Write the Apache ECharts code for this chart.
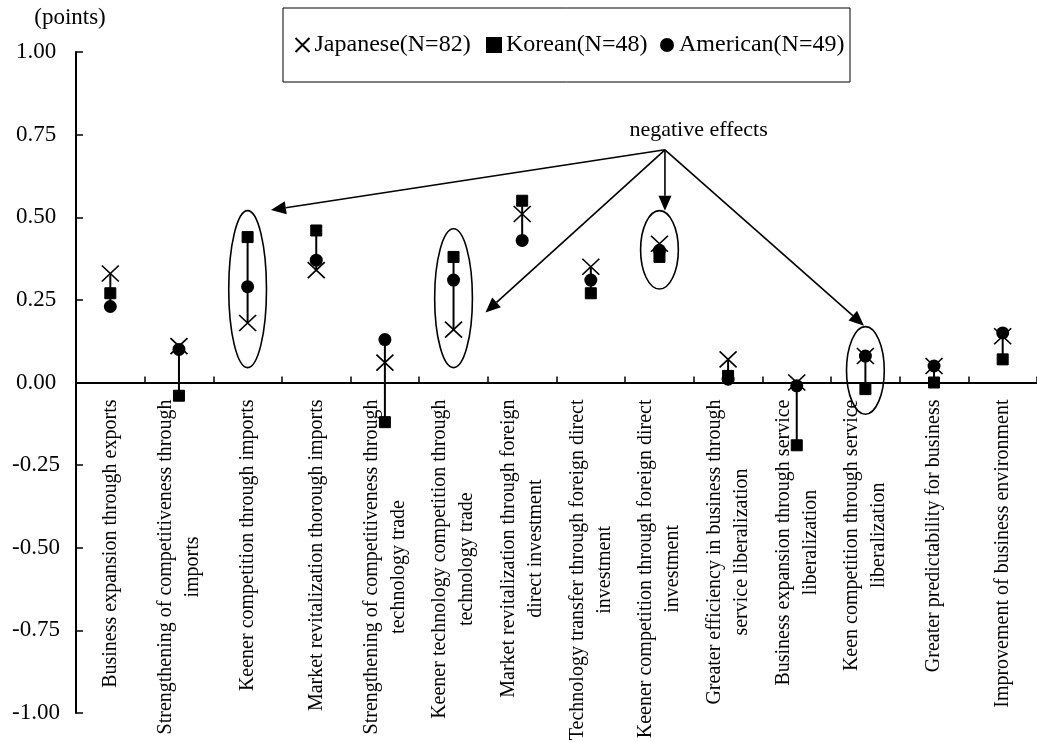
<!DOCTYPE html>
<html>
<head>
<meta charset="utf-8">
<script src="https://cdn.jsdelivr.net/npm/echarts@6/dist/echarts.min.js"></script>
<style>
  html, body { margin: 0; padding: 0; background: #fff; }
  #chart { width: 1037px; height: 742px; }
</style>
</head>
<body>
<div id="chart"></div>
<script>
// Survey items (x axis), line breaks as printed under the axis
const categories = [
  'Business expansion through exports',
  'Strengthening of competitiveness through\nimports',
  'Keener competition through imports',
  'Market revitalization thorough imports',
  'Strengthening of competitiveness through\ntechnology trade',
  'Keener technology competition through\ntechnology trade',
  'Market revitalization through foreign\ndirect investment',
  'Technology transfer through foreign direct\ninvestment',
  'Keener competition through foreign direct\ninvestment',
  'Greater efficiency in business through\nservice liberalization',
  'Business expansion through service\nliberalization',
  'Keen competition through service\nliberalization',
  'Greater predictability for business',
  'Improvement of business environment'
];

const seriesNames = ['Japanese(N=82)', 'Korean(N=48)', 'American(N=49)'];

// Average scores (points) per respondent group
const japanese = [0.33, 0.11, 0.18, 0.34, 0.06, 0.16, 0.51, 0.35, 0.42, 0.07, 0.00, 0.08, 0.05, 0.14];
const korean   = [0.27, -0.04, 0.44, 0.46, -0.12, 0.38, 0.55, 0.27, 0.38, 0.02, -0.19, -0.02, 0.00, 0.07];
const american = [0.23, 0.10, 0.29, 0.37, 0.13, 0.31, 0.43, 0.31, 0.40, 0.01, -0.01, 0.08, 0.05, 0.15];

// Value axis ticks
const yMin = -1, yMax = 1, yStep = 0.25;

const annotationText = 'negative effects';

const FONT = '"Liberation Serif", "Times New Roman", serif';
const CROSS = 'path://M0,0L14,14M14,0L0,14';

// high-low line per item, spanning the three groups
const hiLo = categories.map((c, i) => {
  const v = [japanese[i], korean[i], american[i]];
  return [i, Math.min(...v), Math.max(...v)];
});

const GRID_TOP = 52, GRID_BOTTOM = 29, HEIGHT = 742;
// category axis sits at value 0: lift it from the grid bottom by the share of the range below zero
const zeroLift = (HEIGHT - GRID_TOP - GRID_BOTTOM) * (0 - yMin) / (yMax - yMin);

const chart = echarts.init(document.getElementById('chart'), null, { renderer: 'canvas' });

const legendRich = w => ({ width: w, fontFamily: FONT, fontSize: 24, lineHeight: 24, color: '#000' });

const option = {
  backgroundColor: '#fff',
  animation: false,
  textStyle: { fontFamily: FONT, color: '#000' },
  grid: { left: 76, right: 0, top: GRID_TOP, bottom: GRID_BOTTOM, containLabel: false, outerBoundsMode: 'none' },
  legend: {
    left: 283, top: 8,
    padding: [25, 5.5, 25, 11.5],
    itemGap: 10,
    itemWidth: 14, itemHeight: 14,
    borderColor: '#000', borderWidth: 1,
    data: [
      { name: seriesNames[0], icon: CROSS },
      { name: seriesNames[1], icon: 'rect' },
      { name: seriesNames[2], icon: 'circle' }
    ],
    formatter: name => {
      const key = ['j', 'k', 'a'][seriesNames.indexOf(name)];
      return '{' + key + '|' + name + '}';
    },
    textStyle: {
      fontFamily: FONT, fontSize: 24, color: '#000',
      rich: { j: legendRich(161.5), k: legendRich(144), a: legendRich(165.5) }
    }
  },
  xAxis: {
    type: 'category',
    data: categories,
    boundaryGap: true,
    position: 'bottom',
    offset: -zeroLift,
    axisLine: { onZero: false, lineStyle: { color: '#000', width: 2 } },
    axisTick: { show: true, inside: true, length: 6, alignWithLabel: false, interval: 0, lineStyle: { color: '#000', width: 1.5 } },
    splitLine: { show: false },
    axisLabel: {
      interval: 0,
      rotate: 90,
      margin: 17,
      color: '#000',
      fontFamily: FONT,
      fontSize: 20,
      lineHeight: 27,
      formatter: v => v.split('\n').map(s => '{c|' + s + '}').join('\n'),
      rich: { c: { align: 'center', fontFamily: FONT, fontSize: 20, lineHeight: 27, color: '#000' } }
    }
  },
  yAxis: {
    type: 'value',
    min: yMin, max: yMax, interval: yStep,
    name: '(points)',
    nameLocation: 'end',
    nameGap: 34,
    nameTextStyle: { fontFamily: FONT, fontSize: 23, color: '#000', align: 'center', verticalAlign: 'middle', padding: [0, 12, 0, 0] },
    axisLine: { show: true, lineStyle: { color: '#000', width: 2 } },
    axisTick: { show: true, inside: true, length: 7, lineStyle: { color: '#000', width: 1.5 } },
    splitLine: { show: false },
    axisLabel: {
      color: '#000', fontFamily: FONT, fontSize: 23,
      align: 'center', margin: 40,
      formatter: v => v.toFixed(2)
    }
  },
  series: [
    {
      type: 'custom',
      name: 'range',
      z: 1,
      silent: true,
      data: hiLo,
      renderItem: (params, api) => {
        const i = api.value(0);
        const a = api.coord([i, api.value(1)]);
        const b = api.coord([i, api.value(2)]);
        return {
          type: 'line',
          shape: { x1: a[0], y1: a[1], x2: b[0], y2: b[1] },
          style: { stroke: '#000', lineWidth: 2 }
        };
      },
      encode: { x: 0, y: [1, 2] }
    },
    {
      type: 'scatter', name: seriesNames[0], data: japanese, z: 3,
      symbol: CROSS, symbolSize: [17, 16],
      itemStyle: { color: 'rgba(0,0,0,0)', borderColor: '#000', borderWidth: 1.6, opacity: 1 }
    },
    {
      type: 'scatter', name: seriesNames[1], data: korean, z: 2,
      symbol: 'rect', symbolSize: 11,
      itemStyle: { color: '#000', borderColor: '#000', borderWidth: 1, opacity: 1 }
    },
    {
      type: 'scatter', name: seriesNames[2], data: american, z: 2,
      symbol: 'circle', symbolSize: 13,
      itemStyle: { color: '#000', opacity: 1 }
    }
  ]
};

chart.setOption(option);

// Call-outs marking the negative-effect items
const ringed = [
  { cat: 2, top: 0.52, bottom: 0.045 },
  { cat: 5, top: 0.465, bottom: 0.045 },
  { cat: 8, top: 0.52, bottom: 0.283 },
  { cat: 11, top: 0.169, bottom: -0.096 }
];
const arrowFrom = [8.08, 0.704];
const arrowTo = [[2.34, 0.522], [5.465, 0.212], [8.08, 0.52], [10.98, 0.172]];
const labelAt = [8.57, 0.762];

const origin0 = chart.convertToPixel({ gridIndex: 0 }, [0, 0]);
const origin1 = chart.convertToPixel({ gridIndex: 0 }, [1, 0]);
const band = origin1[0] - origin0[0];
function pt(pos, val) {
  const p = chart.convertToPixel({ gridIndex: 0 }, [0, val]);
  return [p[0] + pos * band, p[1]];
}

const graphics = [];
ringed.forEach(e => {
  const t = pt(e.cat, e.top), b = pt(e.cat, e.bottom);
  graphics.push({
    type: 'ellipse',
    shape: { cx: t[0], cy: (t[1] + b[1]) / 2, rx: band * 0.275, ry: (b[1] - t[1]) / 2 },
    style: { fill: 'none', stroke: '#000', lineWidth: 1.6 },
    z: 10
  });
});
const o = pt(arrowFrom[0], arrowFrom[1]);
arrowTo.forEach(a => {
  const e = pt(a[0], a[1]);
  const dx = e[0] - o[0], dy = e[1] - o[1];
  const len = Math.hypot(dx, dy);
  const ux = dx / len, uy = dy / len;
  const head = 15, half = 6.5;
  const bx = e[0] - ux * head, by = e[1] - uy * head;
  graphics.push({
    type: 'line',
    shape: { x1: o[0], y1: o[1], x2: bx, y2: by },
    style: { stroke: '#000', lineWidth: 1.6 },
    z: 10
  });
  graphics.push({
    type: 'polygon',
    shape: { points: [[e[0], e[1]], [bx - uy * half, by + ux * half], [bx + uy * half, by - ux * half]] },
    style: { fill: '#000' },
    z: 10
  });
});
const lp = pt(labelAt[0], labelAt[1]);
graphics.push({
  type: 'text',
  x: lp[0], y: lp[1],
  style: { text: annotationText, fontFamily: FONT, fontSize: 22, fill: '#000', align: 'center', verticalAlign: 'middle' },
  z: 10
});

chart.setOption({ graphic: graphics });
</script>
</body>
</html>
